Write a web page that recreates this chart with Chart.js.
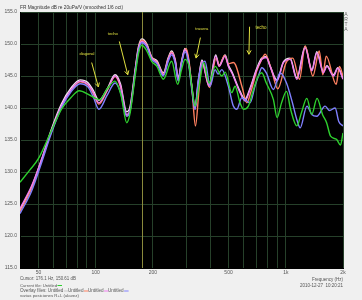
<!DOCTYPE html>
<html><head><meta charset="utf-8">
<script src="https://cdn.jsdelivr.net/npm/chart.js@4/dist/chart.umd.min.js"></script>
<style>html,body{margin:0;padding:0;background:#f0f0f0;overflow:hidden}canvas{display:block}</style>
</head><body><canvas id="c" width="362" height="300"></canvas>
<script>
// ---- data ----
const xMin = 40, xMax = 2000, yMin = 115, yMax = 155, yStep = 5;
const xGridValues = [50,60,70,80,90,100,200,300,400,500,600,700,800,900,1000,2000];
const xTickLabels = {50:'50',100:'100',200:'200',500:'500',1000:'1k',2000:'2k'};
const cursorFreq = 176.1, cursorDb = 150.61;
const titleText = 'FR Magnitude dB re 20uPa/V (smoothed 1/6 oct)';
const seriesNames = ['Untitled','Untitled','Untitled','Untitled','Untitled'];
const noteText = 'varias posiciones R+L (alavez)';
const dateText = '2010-12-27  10:20:21';
const xAxisTitle = 'Frequency (Hz)';
const annotationTexts = ['diagonal','techo','trasera','techo'];

const greenSeries = [[40,128.4],[45,130.3],[49.8,132.0],[58.4,136.4],[66,139.8],[74,141.6],[82,142.7],[92,142.1],[100,141.5],[105,141.3],[115,143.0],[126.5,144.2],[136,142.0],[145.7,137.7],[152,139.3],[161,144.8],[168,148.5],[175,149.8],[186,148.9],[197,147.3],[210,146.5],[227,144.5],[251,147.3],[270,143.7],[283,146.0],[295,147.6],[310,146.5],[320,143.5],[333,140.3],[350,143.5],[370,147.1],[395,143.9],[425,146.5],[461,145.0],[480,145.6],[520,142.4],[541,143.4],[575,140.8],[599,139.8],[636,140.3],[676,142.9],[718,145.0],[748,145.5],[790,143.9],[861,141.3],[900,138.5],[950,140.8],[1009,142.6],[1060,139.8],[1143,137.2],[1210,139.3],[1290,141.5],[1370,139.0],[1460,141.5],[1560,139.0],[1640,137.7],[1720,135.6],[1850,135.1],[1940,134.2],[2000,136.1]];

const whiteSeries = [[40,124.0],[46,127.6],[52,132.0],[58.4,136.6],[66,140.6],[74.5,143.2],[82.8,144.4],[91,144.0],[97,142.8],[104,141.2],[115,143.0],[126.5,145.2],[135,143.8],[145.7,139.4],[151.7,140.2],[161,145.8],[167.7,149.5],[175,150.8],[186,150.0],[197,148.0],[210,147.4],[227,145.5],[241,147.9],[251,148.9],[262,147.6],[272,144.8],[283,147.3],[295,149.3],[307,147.8],[320,143.6],[333,140.2],[347,144.2],[362,147.5],[395,143.6],[428,148.3],[446,146.7],[480,148.3],[499,146.7],[520,145.7],[575,142.6],[611,141.4],[649,143.1],[704,146.2],[748,147.8],[790,148.0],[827,146.6],[898,144.4],[972,147.2],[1054,147.8],[1143,144.7],[1265,149.6],[1372,146.0],[1457,148.8],[1578,145.7],[1645,146.6],[1782,145.2],[1880,146.3],[2000,144.6]];

const salmonSeries = [[40,123.8],[46,127.4],[52,131.8],[58.4,136.2],[66,140.2],[74.5,142.8],[82.8,144.1],[91,143.6],[97,142.3],[104,140.6],[115,142.7],[126.5,144.9],[135,143.3],[145.7,138.8],[151.7,139.6],[161,145.4],[167.7,149.2],[175,150.6],[186,149.8],[197,147.9],[210,147.2],[227,145.3],[241,147.7],[251,148.7],[262,147.4],[272,144.3],[283,147.2],[299,149.3],[310,147.3],[322,142.5],[335,137.2],[350,143.0],[364,147.0],[397,143.2],[430,147.8],[448,146.6],[476,148.2],[500,146.9],[530,147.1],[545,146.7],[590,143.2],[624,140.8],[655,142.5],[704,145.8],[740,147.3],[780,148.4],[840,146.0],[908,143.0],[1004,147.1],[1090,147.8],[1180,144.5],[1265,149.7],[1388,145.0],[1500,148.9],[1567,145.2],[1632,148.1],[1841,143.7],[1916,146.5],[2000,145.0]];

const pinkSeries = [[40,124.3],[46,127.8],[52,132.0],[58.4,136.4],[66,140.3],[74.5,142.9],[82.8,144.2],[91,143.7],[97,142.5],[104,140.8],[115,142.8],[126.5,145.0],[135,143.5],[145.7,139.0],[151.7,139.8],[161,145.5],[167.7,149.1],[175,150.4],[186,149.7],[197,147.8],[210,147.1],[227,145.2],[241,147.6],[251,148.6],[262,147.3],[272,144.5],[283,147.1],[295,149.1],[307,147.6],[320,143.4],[333,139.8],[347,144.0],[362,147.3],[395,143.4],[428,148.1],[446,146.5],[480,148.1],[499,146.5],[520,145.5],[575,142.4],[611,141.1],[649,142.9],[704,146.0],[748,147.6],[790,147.9],[827,146.5],[898,144.2],[972,147.1],[1054,147.6],[1143,144.5],[1265,149.4],[1372,145.8],[1457,148.6],[1578,145.5],[1645,146.5],[1782,145.0],[1880,146.2],[2000,144.5]];

const blueSeries = [[40,123.5],[46,127.0],[52,131.5],[58.4,136.0],[66,140.0],[74.5,142.6],[82.8,143.8],[91,143.3],[97,141.8],[104,139.8],[115,142.0],[126.5,143.9],[135,142.5],[145.7,138.7],[151.7,139.5],[161,145.2],[167.7,148.9],[175,150.2],[186,149.5],[197,147.6],[210,146.9],[227,145.0],[241,147.3],[251,148.3],[262,147.0],[272,144.2],[283,146.9],[295,148.8],[307,147.3],[320,143.0],[333,139.8],[347,144.5],[376,147.3],[400,143.4],[425,146.0],[440,145.3],[461,146.0],[499,143.4],[530,140.3],[553,139.8],[587,141.6],[610,141.3],[649,140.8],[690,143.5],[718,145.0],[748,146.3],[790,145.5],[861,142.9],[934,145.5],[1009,143.9],[1080,141.0],[1143,138.2],[1191,136.9],[1292,140.3],[1370,139.0],[1457,138.7],[1611,140.3],[1700,139.6],[1819,140.0],[1900,137.9],[2000,137.2]];

// annotation anchors in data units: [textFreq, textDb, fromFreq, fromDb, toFreq, toDb]
const annotationAnchors = [[90,148.4,95.3,147.1,103.3,143.3],[123,151.6,133.2,150.4,147.5,145.2],[361.7,152.3,355.5,151.0,337.5,147.8],[741.7,152.5,645,152.7,640,148.4]];

// ---- styles ----
const FONT = 'Liberation Sans';
const colors = {green:'#2ed02e', white:'#f2e6f2', salmon:'#ff8060', pink:'#f07cf0', blue:'#8080ff'};
const toXY = s => s.map(p => ({x:p[0], y:p[1]}));

function fitText(ctx, text, x, y, w, align, color){
  ctx.font = '10px "' + FONT + '"';
  const m = ctx.measureText(text).width;
  const size = 10 * w / m;
  ctx.font = size.toFixed(2) + 'px "' + FONT + '"';
  ctx.textAlign = align || 'left';
  ctx.textBaseline = 'middle';
  ctx.fillStyle = color || '#555';
  ctx.fillText(text, x, y);
  return size;
}

const decor = {
  id:'decor',
  beforeDraw(chart){
    const {ctx, chartArea:a} = chart;
    ctx.save();
    ctx.fillStyle = '#f0f0f0';
    ctx.fillRect(0,0,chart.width,chart.height);
    ctx.fillStyle = '#000';
    ctx.fillRect(a.left, a.top, a.right-a.left, a.bottom-a.top);
    ctx.restore();
  },
  beforeDatasetsDraw(chart){
    const {ctx, chartArea:a, scales:{x}} = chart;
    const cx = Math.round(x.getPixelForValue(cursorFreq)) + 0.5;
    ctx.save();
    ctx.strokeStyle = '#8a8a3c';
    ctx.lineWidth = 1;
    ctx.beginPath(); ctx.moveTo(cx, a.top); ctx.lineTo(cx, a.bottom); ctx.stroke();
    ctx.restore();
  },
  afterDatasetsDraw(chart){
    const {ctx, scales:{x,y}} = chart;
    const widths = [15,10,13,11];
    ctx.save();
    annotationAnchors.forEach((an,i)=>{
      const tx = x.getPixelForValue(an[0]), ty = y.getPixelForValue(an[1]);
      fitText(ctx, annotationTexts[i], tx, ty, widths[i], 'center', '#e0e040');
      const x1 = x.getPixelForValue(an[2]), y1 = y.getPixelForValue(an[3]);
      const x2 = x.getPixelForValue(an[4]), y2 = y.getPixelForValue(an[5]);
      ctx.strokeStyle = '#e0e040'; ctx.lineWidth = 1;
      ctx.beginPath(); ctx.moveTo(x1,y1); ctx.lineTo(x2,y2);
      const ang = Math.atan2(y2-y1, x2-x1), L = 4.5;
      ctx.moveTo(x2,y2); ctx.lineTo(x2 - L*Math.cos(ang-0.5), y2 - L*Math.sin(ang-0.5));
      ctx.moveTo(x2,y2); ctx.lineTo(x2 - L*Math.cos(ang+0.5), y2 - L*Math.sin(ang+0.5));
      ctx.stroke();
    });
    ctx.restore();
  },
  afterDraw(chart){
    const {ctx} = chart;
    ctx.save();
    fitText(ctx, titleText, 20, 8, 103, 'left', '#333');
    ['A','R','T','A'].forEach((ch,i)=>{
      ctx.font = '5px "' + FONT + '"'; ctx.textAlign='center'; ctx.textBaseline='middle';
      ctx.fillStyle = '#666'; ctx.fillText(ch, 346, 14.7 + i*4.9);
    });
    fitText(ctx, 'Cursor: ' + cursorFreq.toFixed(1) + ' Hz, ' + cursorDb.toFixed(2) + ' dB', 20, 279, 56, 'left', '#555');
    let s = fitText(ctx, 'Current file: ' + seriesNames[0], 20, 285.5, 37, 'left', '#555');
    ctx.font = s.toFixed(2)+'px "'+FONT+'"';
    let px = 20 + ctx.measureText('Current file: ' + seriesNames[0]).width;
    const dash = (xx, yy, col) => { ctx.strokeStyle = col; ctx.lineWidth = 1; ctx.beginPath(); ctx.moveTo(xx+0.5, yy); ctx.lineTo(xx+5, yy); ctx.stroke(); };
    dash(px, 285.5, colors.green);
    const ovCols = ['#c8c8c8', colors.salmon, colors.pink, colors.blue];
    const parts = ['Overlay files: ' + seriesNames[1], ' ' + seriesNames[2], ' ' + seriesNames[3], ' ' + seriesNames[4]];
    ctx.font = '10px "'+FONT+'"';
    let total = 0; parts.forEach(p => total += ctx.measureText(p).width + 7);
    const sz = 10 * 107 / total;
    ctx.font = sz.toFixed(2)+'px "'+FONT+'"';
    ctx.textAlign='left'; ctx.textBaseline='middle';
    px = 20;
    parts.forEach((p,i) => {
      ctx.fillStyle = '#555'; ctx.fillText(p, px, 291);
      px += ctx.measureText(p).width;
      dash(px, 291, ovCols[i]);
      px += 7 * sz / 10;
    });
    fitText(ctx, noteText, 20, 296, 59, 'left', '#555');
    fitText(ctx, xAxisTitle, 343, 279.3, 31, 'right', '#555');
    fitText(ctx, dateText, 343, 286, 43, 'right', '#555');
    ctx.restore();
  }
};

const ds = (data, col) => ({data: toXY(data), borderColor: col, borderWidth: 1.4, pointRadius: 0, fill: false, cubicInterpolationMode: 'monotone'});

new Chart(document.getElementById('c'), {
  type: 'line',
  data: { datasets: [
    ds(greenSeries, colors.green),
    ds(blueSeries, colors.blue),
    ds(pinkSeries, colors.pink),
    ds(salmonSeries, colors.salmon),
    ds(whiteSeries, colors.white)
  ]},
  options: {
    responsive: false, animation: false, devicePixelRatio: 1,
    layout: { padding: { top: 12, right: 19, left: 0, bottom: 0 } },
    plugins: { legend: {display:false}, tooltip: {enabled:false}, title: {display:false} },
    scales: {
      x: {
        type: 'logarithmic', min: xMin, max: xMax,
        afterBuildTicks: sc => { sc.ticks = xGridValues.map(v => ({value: v})); },
        afterFit: sc => { sc.height = 32; },
        ticks: { autoSkip: false, maxRotation: 0, padding: 2, color: '#555',
          font: { family: FONT, size: 5 },
          callback: v => xTickLabels[v] || '' },
        grid: { color: '#26402a', lineWidth: 1, drawTicks: false },
        border: { display: true, color: '#000' }
      },
      y: {
        min: yMin, max: yMax,
        afterFit: sc => { sc.width = 20; },
        ticks: { stepSize: yStep, padding: 3, color: '#555',
          font: { family: FONT, size: 5 },
          callback: v => v.toFixed(1) },
        grid: { color: '#26402a', lineWidth: 1, drawTicks: false },
        border: { display: true, color: '#000' }
      }
    }
  },
  plugins: [decor]
});
</script>
</body></html>
